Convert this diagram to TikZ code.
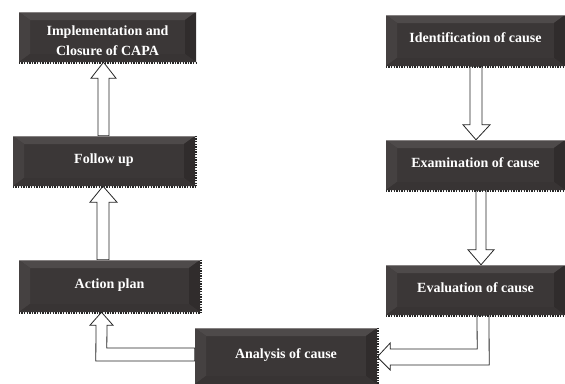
\documentclass[tikz,border=0pt]{standalone}
\usepackage{fontspec}
\newfontfamily\boxfont{Liberation Serif}
\usetikzlibrary{calc}
\definecolor{boxc}{HTML}{3B3737}
\definecolor{bevtop}{HTML}{4E4A4A}
\definecolor{bevleft}{HTML}{454141}
\definecolor{bevright}{HTML}{302C2C}
\definecolor{bevbot}{HTML}{383434}
\definecolor{topline}{HTML}{858181}
\def\ppb{path picture bounding box}
\pgfdeclarelayer{bg}
\pgfsetlayers{bg,main}
\tikzset{
  capabox/.style 2 args={minimum width=#1pt, minimum height=#2pt, inner sep=0pt,
    fill=boxc, text=white, align=center,
    font=\boxfont\bfseries\fontsize{14}{20}\selectfont,
    path picture={
      \fill[bevtop] (\ppb.north west) -- (\ppb.north east) -- ([xshift=-11pt,yshift=-8pt]\ppb.north east) -- ([xshift=11pt,yshift=-8pt]\ppb.north west) -- cycle;
      \fill[bevleft] (\ppb.north west) -- ([xshift=11pt,yshift=-8pt]\ppb.north west) -- ([xshift=11pt,yshift=8pt]\ppb.south west) -- (\ppb.south west) -- cycle;
      \fill[bevright] (\ppb.north east) -- ([xshift=-11pt,yshift=-8pt]\ppb.north east) -- ([xshift=-11pt,yshift=8pt]\ppb.south east) -- (\ppb.south east) -- cycle;
      \fill[bevbot] (\ppb.south west) -- ([xshift=11pt,yshift=8pt]\ppb.south west) -- ([xshift=-11pt,yshift=8pt]\ppb.south east) -- (\ppb.south east) -- cycle;
      \draw[topline, line width=1.2pt] (\ppb.north west) -- (\ppb.north east);
    }},
  oneline/.style={text height=9.5pt, text depth=5.5pt},
  dotedge/.style={draw=black!85, line width=2.2pt, dash pattern=on 1.3pt off 1.3pt},
  blockarrow/.style={draw=black!85, fill=white, line width=0.8pt, line join=miter},
}
\begin{document}
\begin{tikzpicture}[x=1pt, y=-1pt]
\useasboundingbox (0,0) rectangle (565,383);

% boxes
\node[capabox={177}{50}] (impl) at (107.5,37) {\rule{0pt}{18pt}Implementation and\\Closure of CAPA};
\node[capabox={182}{50}, oneline] (follow) at (104,161) {Follow up};
\node[capabox={181}{52}, oneline] (action) at (109.5,286) {Action plan};
\node[capabox={179}{51}, oneline] (ident) at (475.5,40.5) {Identification of cause};
\node[capabox={179}{50}, oneline] (exam) at (475.5,165) {Examination of cause};
\node[capabox={179}{50}, oneline] (eval) at (475.5,290) {Evaluation of cause};
\node[capabox={182}{56}, oneline] (anal) at (286,356) {Analysis of cause};

% dotted lower and right edges
\foreach \n in {impl,follow,action,ident,exam,eval}{
  \draw[dotedge] ([yshift=-1.1pt]\n.south west) -- ([yshift=-1.1pt]\n.south east);
}
\foreach \n in {follow,action,anal}{
  \draw[dotedge] ([xshift=1.1pt]\n.north east) -- ([xshift=1.1pt]\n.south east);
}

% block arrows
\begin{pgfonlayer}{bg}
% follow up -> implementation
\draw[blockarrow] ($(follow.north)+(-6,0)$) -- ($(impl.south)+(-9.5,16)$) -- ($(impl.south)+(-16.5,16)$)
  -- ($(impl.south)+(-4,0)$) -- ($(impl.south)+(8.5,16)$) -- ($(impl.south)+(1.5,16)$)
  -- ($(follow.north)+(5,0)$) -- cycle;
% action plan -> follow up
\draw[blockarrow] ($(action.north)+(-12.5,0)$) -- ($(follow.south)+(-7,16)$) -- ($(follow.south)+(-14,16)$)
  -- ($(follow.south)+(-1,0)$) -- ($(follow.south)+(13,16)$) -- ($(follow.south)+(5,16)$)
  -- ($(action.north)+(-0.5,0)$) -- cycle;
% identification -> examination
\draw[blockarrow] ($(ident.south)+(-5.5,0)$) -- ($(exam.north)+(-5.5,-15)$) -- ($(exam.north)+(-12.5,-15)$)
  -- ($(exam.north)+(0.5,0)$) -- ($(exam.north)+(14.5,-15)$) -- ($(exam.north)+(6.5,-15)$)
  -- ($(ident.south)+(6.5,0)$) -- cycle;
% examination -> evaluation
\draw[blockarrow] ($(exam.south)+(0.5,0)$) -- ($(eval.north)+(0.5,-15)$) -- ($(eval.north)+(-7.5,-15)$)
  -- ($(eval.north)+(5.5,0)$) -- ($(eval.north)+(18.5,-15)$) -- ($(eval.north)+(10.5,-15)$)
  -- ($(exam.south)+(10.5,0)$) -- cycle;
% evaluation -> analysis
\draw[blockarrow] ($(eval.south)+(1.5,0)$) -- ($(anal.east)+(100,-7)$) -- ($(anal.east)+(13,-7)$)
  -- ($(anal.east)+(13,-13)$) -- ($(anal.east)+(0,1)$) -- ($(anal.east)+(13,14)$)
  -- ($(anal.east)+(13,9)$) -- ($(anal.east)+(112,9)$) -- ($(eval.south)+(13.5,0)$) -- cycle;
% analysis -> action plan
\draw[blockarrow] ($(anal.west)+(0,-8)$) -- ($(anal.west)+(-88,-8)$) -- ($(action.south)+(-2.5,13)$)
  -- ($(action.south)+(3.5,13)$) -- ($(action.south)+(-8,0)$) -- ($(action.south)+(-19.5,13)$)
  -- ($(action.south)+(-13.5,13)$) -- ($(anal.west)+(-99,5)$) -- ($(anal.west)+(0,5)$) -- cycle;
\end{pgfonlayer}
\end{tikzpicture}
\end{document}
